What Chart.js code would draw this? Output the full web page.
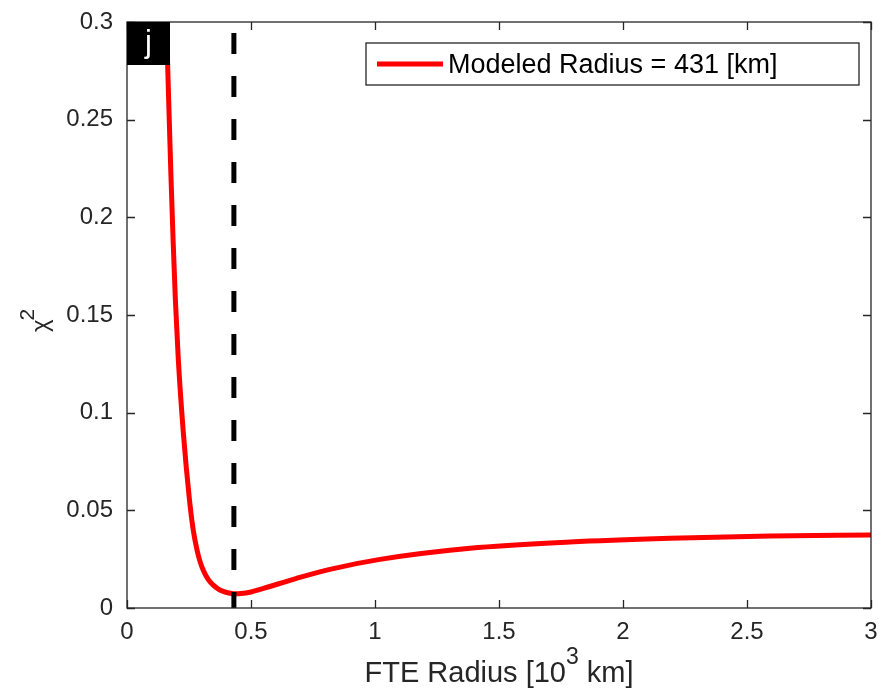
<!DOCTYPE html>
<html>
<head>
<meta charset="utf-8">
<title>FTE Radius fit</title>
<script src="https://cdn.jsdelivr.net/npm/chart.js@4/dist/chart.umd.min.js"></script>
<style>
  html, body { margin: 0; padding: 0; background: #fff; }
  #wrap { width: 892px; height: 689px; }
</style>
</head>
<body>
<div id="wrap"><canvas id="chi2Chart"></canvas></div>
<script>
// chi^2 versus trial FTE radius (10^3 km)
const radius = [0.152, 0.159, 0.168, 0.177, 0.186, 0.195, 0.207, 0.227, 0.251, 0.267,
                0.281, 0.294, 0.308, 0.328, 0.348, 0.367, 0.388, 0.410, 0.431, 0.460,
                0.500, 0.550, 0.684, 0.818, 1.020, 1.383, 1.786, 2.190, 2.593, 3.000];
const chi2 = [0.332, 0.300, 0.260, 0.222, 0.188, 0.158, 0.127, 0.090, 0.0565, 0.0400,
              0.0305, 0.0240, 0.0192, 0.0145, 0.0117, 0.0098, 0.0085, 0.0077, 0.0073, 0.0074,
              0.0082, 0.0100, 0.0152, 0.0198, 0.0249, 0.0306, 0.0338, 0.0357, 0.0369, 0.0374];

const modeledRadius = 0.431;   // best-fit radius, 10^3 km
const legendText = 'Modeled Radius = 431 [km]';
const panelLabel = 'j';

const xTicks = [0, 0.5, 1, 1.5, 2, 2.5, 3];
const yTicks = [0, 0.05, 0.1, 0.15, 0.2, 0.25, 0.3];

const axisColor = '#262626';
const fontFamily = '"Liberation Sans", Arial, Helvetica, sans-serif';

const curveData = radius.map((r, i) => ({ x: r, y: chi2[i] }));
const markerData = [{ x: modeledRadius, y: yTicks[yTicks.length - 1] }, { x: modeledRadius, y: yTicks[0] }];

// box, inward ticks, panel tag, legend and axis titles, MATLAB style
const boxAxesPlugin = {
    id: 'boxAxes',
    afterDatasetsDraw(chart) {
        const { ctx, chartArea: ca, scales } = chart;
        const tl = 8;
        ctx.save();
        ctx.strokeStyle = axisColor;
        ctx.lineWidth = 1.3;
        ctx.beginPath();
        xTicks.forEach(v => {
            const px = Math.round(scales.x.getPixelForValue(v)) + 0.5;
            ctx.moveTo(px, ca.bottom); ctx.lineTo(px, ca.bottom - tl);
            ctx.moveTo(px, ca.top); ctx.lineTo(px, ca.top + tl);
        });
        yTicks.forEach(v => {
            const py = Math.round(scales.y.getPixelForValue(v)) + 0.5;
            ctx.moveTo(ca.left, py); ctx.lineTo(ca.left + tl, py);
            ctx.moveTo(ca.right, py); ctx.lineTo(ca.right - tl, py);
        });
        ctx.stroke();
        ctx.strokeRect(ca.left, ca.top, ca.right - ca.left, ca.bottom - ca.top);

        // panel tag
        ctx.fillStyle = '#000';
        ctx.fillRect(ca.left, ca.top, 43, 43);
        ctx.fillStyle = '#fff';
        ctx.font = '31px ' + fontFamily;
        ctx.textAlign = 'center';
        ctx.textBaseline = 'alphabetic';
        ctx.fillText(panelLabel, ca.left + 21.5, ca.top + 30);

        // legend
        const boxW = 493, boxH = 42;
        const bx = ca.right - 12 - boxW;
        const by = ca.top + 21;
        ctx.fillStyle = '#fff';
        ctx.fillRect(bx, by, boxW, boxH);
        ctx.lineWidth = 1.3;
        ctx.strokeStyle = axisColor;
        ctx.strokeRect(bx, by, boxW, boxH);
        ctx.strokeStyle = '#ff0000';
        ctx.lineWidth = 5;
        ctx.beginPath();
        ctx.moveTo(bx + 11, by + 21);
        ctx.lineTo(bx + 77, by + 21);
        ctx.stroke();
        ctx.fillStyle = '#000';
        ctx.textAlign = 'left';
        ctx.font = '27px ' + fontFamily;
        ctx.fillText(legendText, bx + 82, by + 29.5);

        // x title with superscript exponent
        ctx.fillStyle = axisColor;
        const mainFont = '29px ' + fontFamily, supFont = '23px ' + fontFamily;
        const p1 = 'FTE Radius [10', p2 = '3', p3 = ' km]';
        ctx.font = mainFont;
        const w1 = ctx.measureText(p1).width, w3 = ctx.measureText(p3).width;
        ctx.font = supFont;
        const w2 = ctx.measureText(p2).width;
        let tx = (ca.left + ca.right) / 2 - (w1 + w2 + w3) / 2;
        const baseY = chart.height - 7;
        ctx.font = mainFont; ctx.fillText(p1, tx, baseY); tx += w1;
        ctx.font = supFont; ctx.fillText(p2, tx, baseY - 18); tx += w2;
        ctx.font = mainFont; ctx.fillText(p3, tx, baseY);

        // y title: chi squared, rotated
        ctx.translate(48, (ca.top + ca.bottom) / 2 + 17);
        ctx.rotate(-Math.PI / 2);
        ctx.font = '24px ' + fontFamily;
        ctx.fillText('χ', 0, 0);
        const wc = ctx.measureText('χ').width;
        ctx.font = '21px ' + fontFamily;
        ctx.fillText('2', wc - 1, -14);
        ctx.restore();
    }
};

const ctx = document.getElementById('chi2Chart').getContext('2d');
const chartInstance = new Chart(ctx, {
    type: 'line',
    data: {
        datasets: [
            {
                label: 'marker',
                data: markerData,
                borderColor: '#000',
                borderWidth: 5,
                borderDash: [21, 22],
                borderDashOffset: 32,
                pointRadius: 0,
                borderCapStyle: 'butt',
                order: 0
            },
            {
                label: legendText,
                data: curveData,
                borderColor: '#ff0000',
                borderWidth: 5,
                pointRadius: 0,
                cubicInterpolationMode: 'monotone',
                order: 1
            }
        ]
    },
    options: {
        responsive: true,
        maintainAspectRatio: false,
        animation: false,
        layout: { padding: { top: 22, right: 21, left: 0, bottom: 0 } },
        plugins: {
            legend: { display: false },
            tooltip: { enabled: false }
        },
        scales: {
            x: {
                type: 'linear',
                min: 0, max: 3,
                afterBuildTicks: s => { s.ticks = xTicks.map(v => ({ value: v })); },
                afterFit: s => { s.height = 81; s.paddingLeft = 0; s.paddingRight = 0; },
                grid: { display: true, drawOnChartArea: false, drawTicks: false },
                border: { display: false },
                ticks: {
                    padding: 10,
                    color: axisColor,
                    font: { family: fontFamily, size: 24 },
                    maxRotation: 0,
                    callback: v => String(+v.toFixed(3))
                }
            },
            y: {
                type: 'linear',
                min: 0, max: 0.3,
                afterBuildTicks: s => { s.ticks = yTicks.map(v => ({ value: v })); },
                afterFit: s => { s.width = 127; s.paddingTop = 0; s.paddingBottom = 0; },
                grid: { display: true, drawOnChartArea: false, drawTicks: false },
                border: { display: false },
                ticks: {
                    padding: 14,
                    color: axisColor,
                    font: { family: fontFamily, size: 24 },
                    callback: v => String(+v.toFixed(3))
                }
            }
        }
    },
    plugins: [boxAxesPlugin]
});
</script>
</body>
</html>
